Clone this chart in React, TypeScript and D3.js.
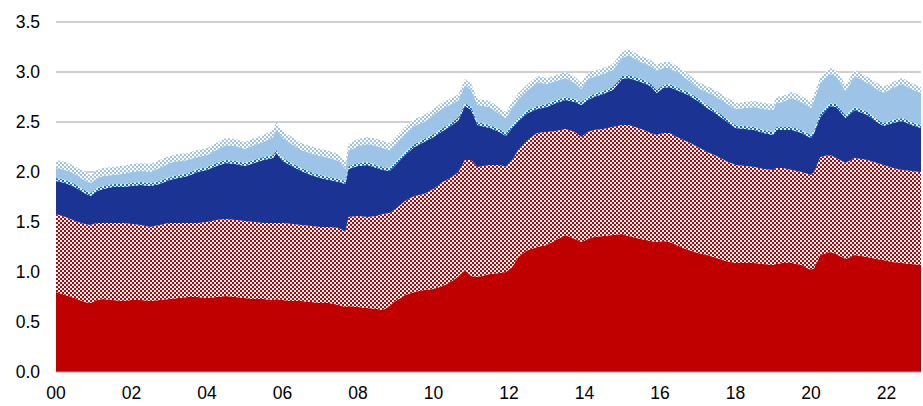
import * as d3 from "d3";

// month of each observation (irregular spacing around turning points)
const months = [
  "2000-01", "2000-04", "2000-07", "2000-10", "2000-12",
  "2001-02", "2001-04", "2001-07", "2001-10",
  "2002-01", "2002-04", "2002-07", "2002-10",
  "2003-01", "2003-04", "2003-07", "2003-10",
  "2004-01", "2004-04", "2004-07", "2004-10",
  "2005-01", "2005-04", "2005-07", "2005-10", "2005-11",
  "2006-01", "2006-04", "2006-07", "2006-10",
  "2007-01", "2007-04", "2007-07", "2007-09", "2007-10",
  "2008-01", "2008-04", "2008-07", "2008-09", "2008-11",
  "2009-01", "2009-04", "2009-07", "2009-10",
  "2010-01", "2010-04", "2010-07", "2010-09", "2010-11",
  "2011-01", "2011-03", "2011-07", "2011-10", "2011-12",
  "2012-02", "2012-04", "2012-07", "2012-10",
  "2013-01", "2013-04", "2013-07", "2013-10", "2013-12",
  "2014-02", "2014-04", "2014-07", "2014-10",
  "2015-01", "2015-03", "2015-07", "2015-10", "2015-12",
  "2016-02", "2016-04", "2016-07", "2016-10",
  "2017-01", "2017-04", "2017-07", "2017-10",
  "2018-01", "2018-04", "2018-07", "2018-10",
  "2019-01", "2019-02", "2019-04", "2019-07", "2019-10",
  "2020-01", "2020-02", "2020-04", "2020-07", "2020-09", "2020-12",
  "2021-03", "2021-07", "2021-10", "2021-12",
  "2022-03", "2022-06", "2022-09", "2022-12",
];

const solidRed = [
  0.8, 0.77, 0.74, 0.7, 0.69,
  0.72, 0.73, 0.72, 0.71,
  0.72, 0.72, 0.71, 0.72,
  0.73, 0.74, 0.75, 0.75,
  0.74, 0.75, 0.76, 0.75,
  0.74, 0.73, 0.73, 0.72, 0.73,
  0.72, 0.71, 0.71, 0.7,
  0.69, 0.69, 0.67, 0.65, 0.66,
  0.65, 0.64, 0.63, 0.62, 0.66,
  0.71, 0.77, 0.8, 0.82,
  0.83, 0.86, 0.91, 0.96, 1.02,
  0.96, 0.95, 0.98, 0.99, 1.0,
  1.05, 1.15, 1.22, 1.25,
  1.27, 1.32, 1.37, 1.33, 1.3,
  1.33, 1.35, 1.36, 1.37,
  1.38, 1.36, 1.33, 1.31, 1.3,
  1.31, 1.3, 1.26, 1.22,
  1.19, 1.17, 1.14, 1.11,
  1.09, 1.09, 1.09, 1.08,
  1.07, 1.08, 1.09, 1.09, 1.07,
  1.02, 1.04, 1.17, 1.2, 1.18, 1.13,
  1.17, 1.15, 1.13, 1.12,
  1.1, 1.09, 1.08, 1.07,
];

const hatchedRed = [
  0.78, 0.78, 0.77, 0.78, 0.78,
  0.77, 0.76, 0.77, 0.78,
  0.76, 0.75, 0.74, 0.75,
  0.76, 0.75, 0.74, 0.74,
  0.76, 0.77, 0.77, 0.77,
  0.77, 0.77, 0.76, 0.77, 0.76,
  0.77, 0.77, 0.76, 0.76,
  0.76, 0.76, 0.77, 0.75, 0.89,
  0.91, 0.91, 0.93, 0.96, 0.93,
  0.92, 0.94, 0.96, 0.96,
  1.0, 1.04, 1.04, 1.04, 1.1,
  1.16, 1.1, 1.09, 1.08, 1.05,
  1.07, 1.07, 1.1, 1.14,
  1.13, 1.09, 1.06, 1.07, 1.05,
  1.07, 1.07, 1.07, 1.08,
  1.09, 1.11, 1.1, 1.08, 1.07,
  1.08, 1.09, 1.08, 1.08,
  1.06, 1.03, 1.02, 1.0,
  0.98, 0.97, 0.96, 0.95,
  0.95, 0.96, 0.95, 0.93, 0.93,
  0.95, 0.96, 0.98, 0.97, 0.96, 0.96,
  0.97, 0.97, 0.96, 0.95,
  0.94, 0.93, 0.93, 0.93,
];

const darkBlue = [
  0.33, 0.34, 0.34, 0.31, 0.29,
  0.32, 0.34, 0.36, 0.36,
  0.38, 0.4, 0.41, 0.41,
  0.43, 0.45, 0.47, 0.51,
  0.52, 0.54, 0.56, 0.56,
  0.55, 0.59, 0.63, 0.65, 0.7,
  0.62, 0.58, 0.54, 0.51,
  0.49, 0.47, 0.46, 0.48, 0.48,
  0.5, 0.52, 0.48, 0.44, 0.42,
  0.44, 0.46, 0.49, 0.52,
  0.52, 0.51, 0.52, 0.52, 0.54,
  0.5, 0.42, 0.37, 0.33, 0.31,
  0.32, 0.29, 0.27, 0.24,
  0.25, 0.28, 0.29, 0.3, 0.32,
  0.32, 0.33, 0.35, 0.37,
  0.46, 0.47, 0.47, 0.47, 0.42,
  0.45, 0.46, 0.47, 0.47,
  0.46, 0.44, 0.42, 0.4,
  0.37, 0.37, 0.37, 0.36,
  0.35, 0.38, 0.38, 0.4, 0.39,
  0.37, 0.39, 0.4, 0.49, 0.51, 0.45,
  0.48, 0.45, 0.41, 0.39,
  0.45, 0.49, 0.46, 0.44,
];

const hatchedBlue = [
  0.03, 0.03, 0.03, 0.03, 0.03,
  0.03, 0.03, 0.03, 0.03,
  0.03, 0.03, 0.03, 0.03,
  0.03, 0.03, 0.03, 0.03,
  0.03, 0.03, 0.03, 0.03,
  0.03, 0.03, 0.03, 0.03, 0.03,
  0.03, 0.03, 0.03, 0.03,
  0.03, 0.03, 0.03, 0.03, 0.03,
  0.03, 0.03, 0.03, 0.03, 0.03,
  0.03, 0.03, 0.03, 0.03,
  0.03, 0.03, 0.03, 0.03, 0.03,
  0.03, 0.03, 0.03, 0.03, 0.03,
  0.03, 0.03, 0.03, 0.03,
  0.03, 0.03, 0.03, 0.03, 0.03,
  0.03, 0.03, 0.03, 0.03,
  0.03, 0.03, 0.03, 0.03, 0.03,
  0.03, 0.03, 0.03, 0.03,
  0.03, 0.03, 0.03, 0.03,
  0.03, 0.03, 0.03, 0.03,
  0.03, 0.03, 0.03, 0.03, 0.03,
  0.03, 0.03, 0.03, 0.03, 0.03, 0.03,
  0.03, 0.03, 0.03, 0.03,
  0.03, 0.03, 0.03, 0.03,
];

const lightBlue = [
  0.1, 0.1, 0.1, 0.1, 0.1,
  0.1, 0.1, 0.09, 0.1,
  0.11, 0.11, 0.11, 0.13,
  0.14, 0.14, 0.13, 0.12,
  0.12, 0.13, 0.15, 0.15,
  0.14, 0.15, 0.15, 0.18, 0.21,
  0.2, 0.19, 0.18, 0.19,
  0.19, 0.19, 0.18, 0.12, 0.15,
  0.17, 0.18, 0.19, 0.19, 0.18,
  0.18, 0.18, 0.18, 0.17,
  0.19, 0.2, 0.18, 0.17, 0.18,
  0.17, 0.17, 0.18, 0.15, 0.15,
  0.17, 0.19, 0.2, 0.24,
  0.2, 0.19, 0.19, 0.16, 0.13,
  0.18, 0.17, 0.17, 0.17,
  0.18, 0.2, 0.17, 0.17, 0.19,
  0.17, 0.16, 0.15, 0.12,
  0.1, 0.13, 0.14, 0.15,
  0.16, 0.18, 0.2, 0.21,
  0.22, 0.24, 0.25, 0.29, 0.28,
  0.27, 0.3, 0.31, 0.29, 0.28, 0.24,
  0.31, 0.29, 0.3, 0.3,
  0.32, 0.34, 0.33, 0.32,
];

const hatchedLight = [
  0.08, 0.08, 0.08, 0.08, 0.08,
  0.08, 0.08, 0.08, 0.08,
  0.08, 0.08, 0.08, 0.08,
  0.07, 0.07, 0.07, 0.07,
  0.07, 0.07, 0.07, 0.07,
  0.07, 0.07, 0.07, 0.07, 0.07,
  0.07, 0.07, 0.07, 0.07,
  0.07, 0.07, 0.07, 0.07, 0.07,
  0.07, 0.07, 0.07, 0.07, 0.07,
  0.07, 0.07, 0.07, 0.07,
  0.06, 0.06, 0.06, 0.06, 0.06,
  0.06, 0.06, 0.06, 0.06, 0.06,
  0.06, 0.06, 0.06, 0.06,
  0.06, 0.06, 0.06, 0.06, 0.06,
  0.06, 0.06, 0.06, 0.06,
  0.06, 0.06, 0.06, 0.06, 0.06,
  0.06, 0.06, 0.06, 0.06,
  0.06, 0.06, 0.06, 0.06,
  0.06, 0.06, 0.06, 0.06,
  0.06, 0.06, 0.06, 0.06, 0.06,
  0.06, 0.06, 0.06, 0.06, 0.06, 0.06,
  0.06, 0.06, 0.06, 0.06,
  0.06, 0.06, 0.06, 0.06,
];

const yTicks = [0, 0.5, 1, 1.5, 2, 2.5, 3, 3.5];
const xTickYears = ["2000", "2002", "2004", "2006", "2008", "2010", "2012", "2014", "2016", "2018", "2020", "2022"];

const seriesKeys = ["solidRed", "hatchedRed", "darkBlue", "hatchedBlue", "lightBlue", "hatchedLight"];
const seriesFill: Record<string, string> = {
  solidRed: "#c00000",
  hatchedRed: "url(#chkRed)",
  darkBlue: "#1b3392",
  hatchedBlue: "url(#chkBlue)",
  lightBlue: "#9dc3e6",
  hatchedLight: "url(#chkLight)",
};

const width = 923;
const height = 406;
const margin = { top: 22, right: 2, bottom: 34, left: 56 };

export default function App() {
  const parse = d3.timeParse("%Y-%m");
  const rows = months.map((m, i) => ({
    date: parse(m) as Date,
    solidRed: solidRed[i],
    hatchedRed: hatchedRed[i],
    darkBlue: darkBlue[i],
    hatchedBlue: hatchedBlue[i],
    lightBlue: lightBlue[i],
    hatchedLight: hatchedLight[i],
  }));

  const x = d3
    .scaleTime()
    .domain([rows[0].date, rows[rows.length - 1].date])
    .range([margin.left, width - margin.right]);
  const y = d3
    .scaleLinear()
    .domain([0, 3.5])
    .range([height - margin.bottom, margin.top]);

  const stacked = d3.stack<any>().keys(seriesKeys)(rows);
  const area = d3
    .area<any>()
    .x((d) => x(d.data.date))
    .y0((d) => y(d[0]))
    .y1((d) => y(d[1]));

  const font = "'Liberation Sans', Arial, sans-serif";

  return (
    <svg
      width={width}
      height={height}
      style={{ position: "absolute", left: 0, top: 0, background: "#fff" }}
    >
      <defs>
        <pattern id="chkRed" width={4} height={4} patternUnits="userSpaceOnUse">
          <rect width={4} height={4} fill="#c00000" />
          <rect width={2} height={2} fill="#ffffff" />
          <rect x={2} y={2} width={2} height={2} fill="#ffffff" />
        </pattern>
        <pattern id="chkBlue" width={4} height={4} patternUnits="userSpaceOnUse">
          <rect width={4} height={4} fill="#0c6fc4" />
          <rect width={2} height={2} fill="#e6f0fa" />
          <rect x={2} y={2} width={2} height={2} fill="#e6f0fa" />
        </pattern>
        <pattern id="chkLight" width={4} height={4} patternUnits="userSpaceOnUse">
          <rect width={4} height={4} fill="#9dc3e6" />
          <rect width={2} height={2} fill="#ffffff" />
          <rect x={2} y={2} width={2} height={2} fill="#ffffff" />
        </pattern>
      </defs>

      {yTicks
        .filter((t) => t > 0)
        .map((t) => (
          <line
            key={t}
            x1={margin.left}
            x2={width - margin.right}
            y1={y(t)}
            y2={y(t)}
            stroke="#a0a0a0"
            strokeWidth={1}
          />
        ))}

      {stacked.map((s) => (
        <path key={s.key} d={area(s) as string} fill={seriesFill[s.key]} />
      ))}

      <line
        x1={margin.left}
        x2={width - margin.right}
        y1={y(0)}
        y2={y(0)}
        stroke="#a0a0a0"
        strokeWidth={1}
      />

      {yTicks.map((t) => (
        <text
          key={t}
          x={40}
          y={y(t)}
          textAnchor="end"
          dominantBaseline="central"
          fontFamily={font}
          fontSize={17.5}
          fill="#000"
        >
          {d3.format(".1f")(t)}
        </text>
      ))}

      {xTickYears.map((yr) => {
        const d = parse(`${yr}-01`) as Date;
        return (
          <text
            key={yr}
            x={x(d)}
            y={393}
            textAnchor="middle"
            dominantBaseline="central"
            fontFamily={font}
            fontSize={17.5}
            fill="#000"
          >
            {d3.timeFormat("%y")(d)}
          </text>
        );
      })}
    </svg>
  );
}
